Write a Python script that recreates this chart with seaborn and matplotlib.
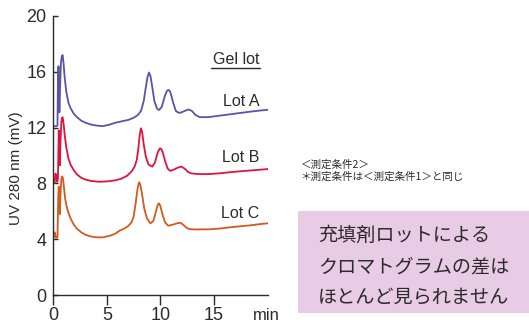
import numpy as np
import pandas as pd
import matplotlib
matplotlib.use('Agg')
import matplotlib.pyplot as plt
import seaborn as sns
from matplotlib.lines import Line2D
from matplotlib.patches import Rectangle

# retention time (min) and UV 280 nm signal (mV)
lot_a_time = [0, 0.3, 0.38, 0.42, 0.47, 0.52, 0.56, 0.62, 0.7, 0.78, 0.86, 0.95, 1.05, 1.2, 1.4,
              1.6, 1.9, 2.2, 2.6, 3.0, 3.5, 4.0, 4.6, 5.2, 5.8, 6.4, 7.0, 7.5, 7.9, 8.2, 8.45,
              8.65, 8.8, 8.94, 9.08, 9.25, 9.45, 9.7, 9.9, 10.15, 10.4, 10.6, 10.75, 10.87, 11.0,
              11.2, 11.45, 11.75, 12.0, 12.3, 12.64, 12.95, 13.3, 13.7, 14.5, 15.5, 16.5, 17.5,
              18.5, 19.3, 20.1]
lot_a_uv = [12.1, 12.1, 12.15, 15.0, 16.4, 14.5, 13.1, 14.8, 16.6, 17.1, 17.2, 16.6, 15.6, 14.6, 13.8,
            13.4, 13.0, 12.75, 12.5, 12.35, 12.22, 12.15, 12.1, 12.2, 12.35, 12.45, 12.55, 12.7, 12.9,
            13.2, 13.9, 14.9, 15.6, 15.95, 15.7, 14.9, 13.9, 13.35, 13.26, 13.5, 14.2, 14.6, 14.7,
            14.65, 14.4, 13.8, 13.2, 13.05, 13.1, 13.2, 13.3, 13.2, 12.9, 12.75, 12.75, 12.85, 12.95,
            13.05, 13.15, 13.22, 13.28]

lot_b_time = [0, 0.12, 0.18, 0.28, 0.35, 0.42, 0.5, 0.55, 0.6, 0.66, 0.74, 0.8, 0.86, 0.95, 1.05,
              1.2, 1.4, 1.6, 1.9, 2.2, 2.6, 3.0, 3.5, 4.2, 5.0, 5.8, 6.4, 6.9, 7.3, 7.6, 7.8, 7.95,
              8.08, 8.19, 8.3, 8.45, 8.65, 8.9, 9.25, 9.5, 9.75, 9.95, 10.06, 10.2, 10.45, 10.7,
              10.93, 11.3, 11.7, 11.99, 12.3, 12.6, 12.9, 13.5, 14.6, 15.5, 16.5, 17.5, 18.5, 19.3,
              20.1]
lot_b_uv = [8.05, 8.05, 8.7, 8.6, 8.1, 8.3, 11.8, 10.5, 9.3, 11.0, 12.4, 12.7, 12.74, 12.3, 11.5,
            10.6, 9.8, 9.35, 8.95, 8.65, 8.4, 8.28, 8.18, 8.12, 8.14, 8.22, 8.35, 8.55, 8.85, 9.2,
            9.7, 10.5, 11.5, 11.95, 11.7, 10.8, 9.9, 9.35, 9.2, 9.5, 10.2, 10.5, 10.5, 10.3, 9.6,
            9.05, 8.9, 9.0, 9.15, 9.2, 9.05, 8.82, 8.72, 8.67, 8.67, 8.72, 8.8, 8.87, 8.93, 8.98,
            9.03]

lot_c_time = [0, 0.08, 0.14, 0.22, 0.3, 0.38, 0.45, 0.5, 0.55, 0.6, 0.66, 0.74, 0.8, 0.86, 0.92,
              1.0, 1.1, 1.25, 1.4, 1.6, 1.9, 2.2, 2.6, 3.0, 3.5, 4.0, 4.6, 5.3, 5.8, 6.2, 6.6, 7.0,
              7.3, 7.5, 7.7, 7.85, 8.0, 8.12, 8.3, 8.5, 8.75, 9.07, 9.35, 9.6, 9.78, 9.87, 10.0,
              10.2, 10.45, 10.75, 11.2, 11.6, 11.9, 12.2, 12.5, 12.73, 13.2, 14.6, 15.5, 16.5, 17.5,
              18.5, 19.3, 20.1]
lot_c_uv = [4.13, 4.5, 4.45, 4.1, 4.1, 4.15, 7.0, 7.76, 6.5, 5.8, 7.2, 8.3, 8.5, 8.45, 8.2,
            7.6, 6.9, 6.3, 5.9, 5.5, 5.05, 4.75, 4.5, 4.32, 4.2, 4.14, 4.13, 4.25, 4.4, 4.62, 4.75,
            4.95, 5.2, 5.6, 6.6, 7.5, 8.08, 7.95, 7.2, 6.2, 5.5, 5.14, 5.3, 6.0, 6.5, 6.57, 6.4,
            5.8, 5.2, 4.97, 5.05, 5.15, 5.18, 5.0, 4.8, 4.73, 4.7, 4.71, 4.76, 4.85, 4.93, 5.0,
            5.08, 5.14]

lots = ['Lot A', 'Lot B', 'Lot C']
lot_colors = ['#5b53a9', '#e3123d', '#d4591d']
y_ticks = [0, 4, 8, 12, 16, 20]
x_ticks = [0, 5, 10, 15]

df = pd.concat([
    pd.DataFrame({'time': lot_a_time, 'uv': lot_a_uv, 'lot': 'Lot A'}),
    pd.DataFrame({'time': lot_b_time, 'uv': lot_b_uv, 'lot': 'Lot B'}),
    pd.DataFrame({'time': lot_c_time, 'uv': lot_c_uv, 'lot': 'Lot C'}),
], ignore_index=True)

sns.set_style('ticks')
plt.rcParams['font.family'] = ['Liberation Sans', 'Noto Sans CJK JP', 'DejaVu Sans']
ink = '#2b2b2b'
cjk = ['Noto Sans CJK JP', 'DejaVu Sans']

fig = plt.figure(figsize=(5.29, 3.26), dpi=100)
ax = fig.add_axes([0.101, 0.095, 0.406, 0.856])

sns.lineplot(data=df, x='time', y='uv', hue='lot', palette=dict(zip(lots, lot_colors)),
             sort=False, estimator=None, linewidth=1.3, legend=False, ax=ax)

ax.set_xlim(0, 20.1)
ax.set_ylim(0, 20)
ax.set_xticks(x_ticks)
ax.set_yticks(y_ticks)
ax.set_xlabel('')
ax.set_ylabel('UV 280 nm (mV)', fontsize=11, color=ink)
ax.yaxis.set_label_coords(-0.142, 0.455)
for s in ['top', 'right']:
    ax.spines[s].set_visible(False)
for s in ['left', 'bottom']:
    ax.spines[s].set_color(ink)
    ax.spines[s].set_linewidth(1.0)
ax.tick_params(axis='y', direction='in', length=3.6, width=1, colors=ink, labelsize=13, pad=5)
ax.tick_params(axis='x', direction='out', length=7, width=1, colors=ink, labelsize=13, pad=1.5)
ax.set_facecolor('white')

fig.text(266 / 529, 1 - 315 / 326, 'min', ha='center', va='center', fontsize=12, color=ink)

# lot labels
ax.text(19.3, 16.85, 'Gel lot', ha='right', va='center', fontsize=11.5, color=ink)
ax.add_line(Line2D([14.75, 19.3], [16.3, 16.3], color=ink, linewidth=1.0))
for name, yv in zip(lots, [13.86, 9.87, 5.86]):
    ax.text(19.3, yv, name, ha='right', va='center', fontsize=11.5, color=ink)

# measurement notes and comment box
fig.text(301 / 529, 1 - 165 / 326, '＜測定条件2＞', ha='left', va='center', fontsize=7.6,
         color=ink, family=cjk)
fig.text(300 / 529, 1 - 177 / 326, '＊測定条件は＜測定条件1＞と同じ', ha='left', va='center',
         fontsize=7.6, color=ink, family=cjk)
fig.patches.append(Rectangle((298 / 529, 1 - 313 / 326), 240 / 529, 102 / 326,
                             transform=fig.transFigure, facecolor='#e8cbe4', edgecolor='none'))
for txt, yp in zip(['充填剤ロットによる', 'クロマトグラムの差は', 'ほとんど見られません'], [235, 267, 297]):
    fig.text(318 / 529, 1 - yp / 326, txt, ha='left', va='center', fontsize=13.8,
             color=ink, family=cjk)

fig.savefig('out.png', dpi=100, facecolor='white')
